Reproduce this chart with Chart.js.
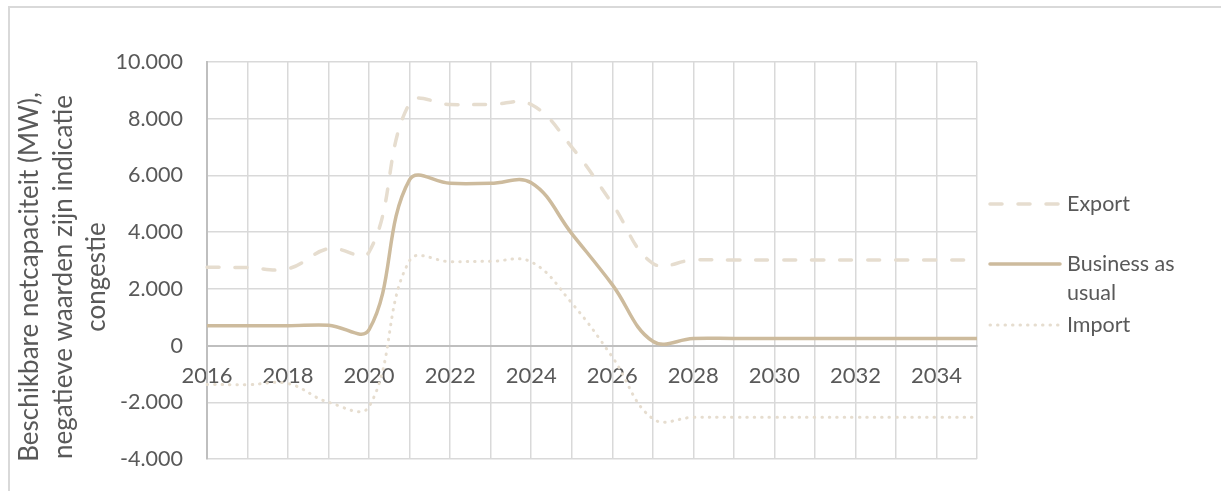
<!DOCTYPE html>
<html>
<head>
<meta charset="utf-8">
<script src="https://cdn.jsdelivr.net/npm/chart.js@4"></script>
<style>
  html, body { margin: 0; padding: 0; background: #fff; }
  #wrap { position: relative; width: 1221px; height: 491px; overflow: hidden; }
  #frame { position: absolute; left: 8px; top: 6px; width: 1400px; height: 600px;
           border-left: 2px solid #d9d9d9; border-top: 2px solid #d9d9d9; }
  canvas { position: absolute; left: 0; top: 0; }
</style>
</head>
<body>
<div id="wrap">
  <div id="frame"></div>
  <canvas id="grafico" width="1221" height="491"></canvas>
</div>
<script>
/* data */
var jaren = [2016, 2017, 2018, 2019, 2020, 2021, 2022, 2023, 2024, 2025,
             2026, 2027, 2028, 2029, 2030, 2031, 2032, 2033, 2034, 2035];
var exportData = [2760, 2750, 2710, 3420, 3300, 8550, 8500, 8500, 8500, 7000,
                  5000, 2900, 3020, 3020, 3020, 3020, 3020, 3020, 3020, 3020];
var businessData = [700, 700, 700, 720, 560, 5850, 5720, 5720, 5740, 3950,
                    2150, 150, 250, 250, 250, 250, 250, 250, 250, 250];
var importData = [-1370, -1380, -1340, -2000, -2150, 3000, 2960, 2970, 2950, 1500,
                  -400, -2580, -2530, -2530, -2530, -2530, -2530, -2530, -2530, -2530];
var yTitel = ['Beschikbare netcapaciteit (MW),', 'negatieve waarden zijn indicatie', 'congestie'];

var kleurBAU = '#cdbb9d';
var kleurLicht = '#e6ddcf';
var tekst = '#595959';
var fam = 'Lato, "Noto Sans", sans-serif';

function punten(f) {
  return Math.abs(f) >= 1000
    ? (f < 0 ? '-' : '') + Math.floor(Math.abs(f) / 1000) + '.' + ('00' + (Math.abs(f) % 1000)).slice(-3)
    : String(f);
}

/* legend on the right + rotated y title */
var extra = {
  id: 'extra',
  afterDraw: function(chart) {
    var ctx = chart.ctx;
    var x0 = chart.chartArea.right + 13;
    var items = [
      { lines: ['Export'], y: 204, color: kleurLicht, dash: [12, 16], w: 3.5 },
      { lines: ['Business as', 'usual'], y: 264, color: kleurBAU, dash: [], w: 3.5 },
      { lines: ['Import'], y: 325, color: kleurLicht, dash: [0.5, 7], w: 3 }
    ];
    ctx.save();
    items.forEach(function(it) {
      ctx.beginPath();
      ctx.strokeStyle = it.color;
      ctx.lineWidth = it.w;
      ctx.lineCap = 'round';
      ctx.setLineDash(it.dash);
      ctx.moveTo(x0, it.y);
      ctx.lineTo(x0 + 70, it.y);
      ctx.stroke();
      ctx.setLineDash([]);
      ctx.fillStyle = tekst;
      ctx.font = '21.5px ' + fam;
      ctx.textBaseline = 'middle';
      it.lines.forEach(function(t, i) {
        ctx.fillText(t, x0 + 77, it.y + i * 29);
      });
    });
    ctx.restore();

    ctx.save();
    ctx.fillStyle = tekst;
    ctx.font = '26px ' + fam;
    ctx.textAlign = 'center';
    ctx.textBaseline = 'middle';
    yTitel.forEach(function(t, i) {
      ctx.save();
      ctx.translate(30 + i * 33.5, 277);
      ctx.rotate(-Math.PI / 2);
      ctx.fillText(t, 0, 0);
      ctx.restore();
    });
    ctx.restore();
  }
};

var ctx = document.getElementById('grafico');
var grafiek = new Chart(ctx, {
  type: 'line',
  data: {
    labels: jaren,
    datasets: [
      { label: 'Export', data: exportData, borderColor: kleurLicht, borderWidth: 3.5,
        borderDash: [12, 16], borderCapStyle: 'round' },
      { label: 'Business as usual', data: businessData, borderColor: kleurBAU, borderWidth: 3.5 },
      { label: 'Import', data: importData, borderColor: kleurLicht, borderWidth: 3,
        borderDash: [0.5, 7], borderCapStyle: 'round' }
    ]
  },
  options: {
    responsive: false,
    animation: false,
    devicePixelRatio: 1,
    layout: { padding: { left: 0, right: 244, top: 62, bottom: 32 } },
    elements: { point: { radius: 0 }, line: { tension: 0.4, fill: false } },
    plugins: { legend: { display: false }, tooltip: { enabled: false } },
    scales: {
      x: {
        type: 'category',
        offset: false,
        position: { y: 0 },
        afterFit: function(s) { s.height = 0; },
        grid: { color: '#d9d9d9', lineWidth: 1.5, drawTicks: false },
        border: { color: '#bfbfbf', width: 2 },
        ticks: {
          autoSkip: false, maxRotation: 0, padding: 17, color: tekst,
          font: { family: fam, size: 22 },
          callback: function(v, i) { var j = jaren[i]; return j % 2 === 0 ? String(j) : ''; }
        }
      },
      y: {
        min: -4000, max: 10000,
        afterFit: function(s) { s.width = 207; s.paddingTop = 0; s.paddingBottom = 0; },
        grid: { color: '#d9d9d9', lineWidth: 1.5, drawTicks: false },
        border: { color: '#bfbfbf', width: 2 },
        ticks: { stepSize: 2000, padding: 24, color: tekst, font: { family: fam, size: 21.5 },
                 callback: function(v) { return punten(v); } }
      }
    }
  },
  plugins: [extra]
});
</script>
</body>
</html>
